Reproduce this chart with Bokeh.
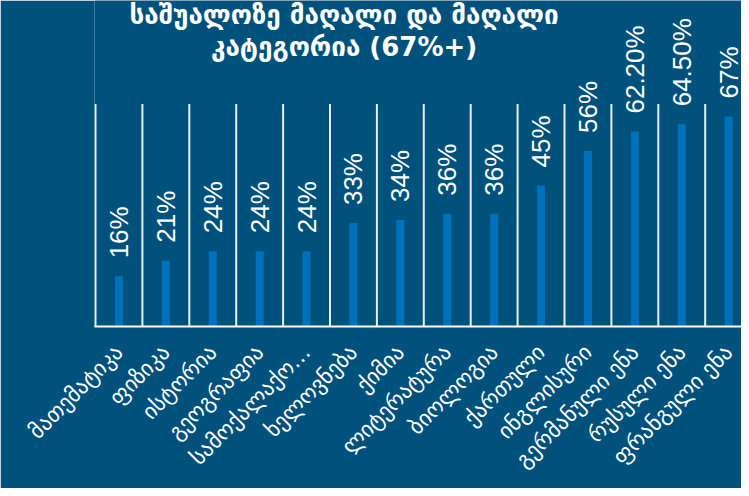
from bokeh.plotting import figure
from bokeh.models import Range1d, FixedTicker, ColumnDataSource
from bokeh.core.properties import value
from bokeh.embed import file_html
from bokeh.resources import INLINE
import math

# ---- data ----
subjects = ["მათემატიკა", "ფიზიკა", "ისტორია", "გეოგრაფია", "სამოქალაქო განათლება",
            "ხელოვნება", "ქიმია", "ლიტერატურა", "ბიოლოგია", "ქართული",
            "ინგლისური", "გერმანული ენა", "რუსული ენა", "ფრანგული ენა"]
tick_labels = ["მათემატიკა", "ფიზიკა", "ისტორია", "გეოგრაფია", "სამოქალაქო…",
               "ხელოვნება", "ქიმია", "ლიტერატურა", "ბიოლოგია", "ქართული",
               "ინგლისური", "გერმანული ენა", "რუსული ენა", "ფრანგული ენა"]
values = [16, 21, 24, 24, 24, 33, 34, 36, 36, 45, 56, 62.2, 64.5, 67]
value_labels = ["16%", "21%", "24%", "24%", "24%", "33%", "34%", "36%", "36%",
                "45%", "56%", "62.20%", "64.50%", "67%"]
title_lines = ["საშუალოზე მაღალი და მაღალი", "კატეგორია (67%+)"]

BG = "#00517b"
BAR = "#0072bb"
SEP_TOP = 71

n = len(values)
xs = [i + 0.5 for i in range(n)]
src = ColumnDataSource(dict(x=xs, top=values, lab=value_labels))

p = figure(width=741, height=488, output_backend="svg", toolbar_location=None,
           x_range=Range1d(-1 / 46.9, 13.774), y_range=Range1d(0, 104.0),
           min_border_left=94, min_border_right=0, min_border_top=0,
           min_border_bottom=162)
p.background_fill_color = BG
p.border_fill_color = BG
p.outline_line_color = None
p.grid.visible = False
p.yaxis.visible = False

# separators
p.segment(x0=list(range(n + 1)), y0=[0] * (n + 1), x1=list(range(n + 1)),
          y1=[SEP_TOP] * (n + 1), line_color="#e8eef3", line_width=2)

p.vbar(x="x", top="top", bottom=0, width=0.17, source=src,
       fill_color=BAR, line_color=None)

p.text(x="x", y="top", text="lab", source=src, angle=math.pi / 2,
       text_align="left", text_baseline="middle", y_offset=-18,
       text_color="white", text_font=value("Liberation Sans"),
       text_font_size="26px")

# title
p.text(x=[5.3, 5.3], y=[99.4, 89.2], text=title_lines,
       text_align="center", text_baseline="alphabetic", text_color="white",
       text_font=value("DejaVu Sans"), text_font_style="bold",
       text_font_size="26px")

ax = p.xaxis[0]
ax.ticker = FixedTicker(ticks=xs)
ax.major_label_overrides = {x: t for x, t in zip(xs, tick_labels)}
ax.major_label_orientation = math.pi / 4
ax.major_label_text_color = "white"
ax.major_label_text_font = "DejaVu Sans"
ax.major_label_text_font_size = "22px"
ax.major_label_standoff = 16
ax.major_tick_line_color = None
ax.minor_tick_line_color = None
ax.axis_line_color = "white"
ax.axis_line_width = 2

open("out.html", "w").write(file_html(p, INLINE))
